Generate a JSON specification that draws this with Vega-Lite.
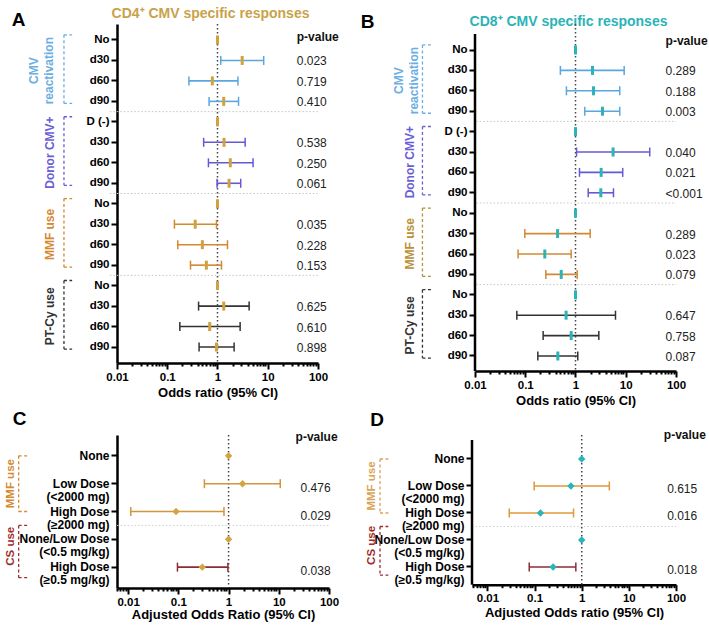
{
  "$schema": "https://vega.github.io/schema/vega-lite/v6.json",
  "background": "white",
  "padding": {"left": 4, "top": 6, "right": 0, "bottom": 0},
  "config": {
    "font": "Liberation Sans",
    "view": {"stroke": null},
    "axis": {"grid": false, "domainColor": "#000000", "domainWidth": 2.5, "tickColor": "#000000", "tickWidth": 2, "labelColor": "#000000", "labelFontWeight": "bold", "titleColor": "#000000", "titleFontWeight": "bold"},
    "text": {"font": "Liberation Sans"}
  },
  "datasets": {
    "a": [
      {"row": "CMV|No", "grp": "CMV", "or": 1, "lo": null, "hi": null, "p": ""},
      {"row": "CMV|d30", "grp": "CMV", "or": 3.1, "lo": 1.16, "hi": 8.3, "p": "0.023"},
      {"row": "CMV|d60", "grp": "CMV", "or": 0.79, "lo": 0.27, "hi": 2.55, "p": "0.719"},
      {"row": "CMV|d90", "grp": "CMV", "or": 1.33, "lo": 0.68, "hi": 2.62, "p": "0.410"},
      {"row": "Donor|D (-)", "grp": "Donor", "or": 1, "lo": null, "hi": null, "p": ""},
      {"row": "Donor|d30", "grp": "Donor", "or": 1.35, "lo": 0.53, "hi": 3.55, "p": "0.538"},
      {"row": "Donor|d60", "grp": "Donor", "or": 1.8, "lo": 0.66, "hi": 5.1, "p": "0.250"},
      {"row": "Donor|d90", "grp": "Donor", "or": 1.7, "lo": 0.98, "hi": 2.9, "p": "0.061"},
      {"row": "MMF|No", "grp": "MMF", "or": 1, "lo": null, "hi": null, "p": ""},
      {"row": "MMF|d30", "grp": "MMF", "or": 0.36, "lo": 0.139, "hi": 0.955, "p": "0.035"},
      {"row": "MMF|d60", "grp": "MMF", "or": 0.5, "lo": 0.162, "hi": 1.58, "p": "0.228"},
      {"row": "MMF|d90", "grp": "MMF", "or": 0.6, "lo": 0.29, "hi": 1.2, "p": "0.153"},
      {"row": "PTCy|No", "grp": "PTCy", "or": 1, "lo": null, "hi": null, "p": ""},
      {"row": "PTCy|d30", "grp": "PTCy", "or": 1.33, "lo": 0.42, "hi": 4.26, "p": "0.625"},
      {"row": "PTCy|d60", "grp": "PTCy", "or": 0.7, "lo": 0.178, "hi": 2.82, "p": "0.610"},
      {"row": "PTCy|d90", "grp": "PTCy", "or": 0.955, "lo": 0.43, "hi": 2.14, "p": "0.898"}
    ],
    "b": [
      {"row": "CMV|No", "grp": "CMV", "or": 1, "lo": null, "hi": null, "p": ""},
      {"row": "CMV|d30", "grp": "CMV", "or": 2.18, "lo": 0.5, "hi": 9.3, "p": "0.289"},
      {"row": "CMV|d60", "grp": "CMV", "or": 2.28, "lo": 0.66, "hi": 7.6, "p": "0.188"},
      {"row": "CMV|d90", "grp": "CMV", "or": 3.45, "lo": 1.53, "hi": 7.6, "p": "0.003"},
      {"row": "Donor|D (-)", "grp": "Donor", "or": 1, "lo": null, "hi": null, "p": ""},
      {"row": "Donor|d30", "grp": "Donor", "or": 5.6, "lo": 1.05, "hi": 30, "p": "0.040"},
      {"row": "Donor|d60", "grp": "Donor", "or": 3.24, "lo": 1.2, "hi": 8.7, "p": "0.021"},
      {"row": "Donor|d90", "grp": "Donor", "or": 3.19, "lo": 1.79, "hi": 5.7, "p": "<0.001"},
      {"row": "MMF|No", "grp": "MMF", "or": 1, "lo": null, "hi": null, "p": ""},
      {"row": "MMF|d30", "grp": "MMF", "or": 0.44, "lo": 0.098, "hi": 1.96, "p": "0.289"},
      {"row": "MMF|d60", "grp": "MMF", "or": 0.245, "lo": 0.072, "hi": 0.82, "p": "0.023"},
      {"row": "MMF|d90", "grp": "MMF", "or": 0.52, "lo": 0.257, "hi": 1.08, "p": "0.079"},
      {"row": "PTCy|No", "grp": "PTCy", "or": 1, "lo": null, "hi": null, "p": ""},
      {"row": "PTCy|d30", "grp": "PTCy", "or": 0.65, "lo": 0.068, "hi": 6.25, "p": "0.647"},
      {"row": "PTCy|d60", "grp": "PTCy", "or": 0.82, "lo": 0.227, "hi": 2.91, "p": "0.758"},
      {"row": "PTCy|d90", "grp": "PTCy", "or": 0.445, "lo": 0.178, "hi": 1.11, "p": "0.087"}
    ],
    "ag": [
      {"grp": "CMV", "top": "CMV|No", "bot": "CMV|d90", "mid": "CMV|d30", "name": "CMV\nreactivation"},
      {"grp": "Donor", "top": "Donor|D (-)", "bot": "Donor|d90", "mid": "Donor|d30", "name": "Donor  CMV+"},
      {"grp": "MMF", "top": "MMF|No", "bot": "MMF|d90", "mid": "MMF|d30", "name": "MMF use"},
      {"grp": "PTCy", "top": "PTCy|No", "bot": "PTCy|d90", "mid": "PTCy|d30", "name": "PT-Cy use"}
    ],
    "c": [
      {"row": "MMF|None", "grp": "MMF", "or": 1, "lo": null, "hi": null, "p": ""},
      {"row": "MMF|Low Dose|(<2000 mg)", "grp": "MMF", "or": 1.9, "lo": 0.33, "hi": 10.7, "p": "0.476"},
      {"row": "MMF|High Dose|(≥2000 mg)", "grp": "MMF", "or": 0.09, "lo": 0.0113, "hi": 0.81, "p": "0.029"},
      {"row": "CS|None/Low Dose|(<0.5 mg/kg)", "grp": "CS", "or": 1, "lo": null, "hi": null, "p": ""},
      {"row": "CS|High Dose|(≥0.5 mg/kg)", "grp": "CS", "or": 0.3, "lo": 0.096, "hi": 0.97, "p": "0.038"}
    ],
    "d": [
      {"row": "MMF|None", "grp": "MMF", "or": 1, "lo": null, "hi": null, "p": ""},
      {"row": "MMF|Low Dose|(<2000 mg)", "grp": "MMF", "or": 0.59, "lo": 0.098, "hi": 3.85, "p": "0.615"},
      {"row": "MMF|High Dose|(≥2000 mg)", "grp": "MMF", "or": 0.133, "lo": 0.029, "hi": 0.67, "p": "0.016"},
      {"row": "CS|None/Low Dose|(<0.5 mg/kg)", "grp": "CS", "or": 1, "lo": null, "hi": null, "p": ""},
      {"row": "CS|High Dose|(≥0.5 mg/kg)", "grp": "CS", "or": 0.247, "lo": 0.077, "hi": 0.75, "p": "0.018"}
    ],
    "cg": [
      {"grp": "MMF", "top": "MMF|None", "bot": "MMF|High Dose|(≥2000 mg)", "mid": "MMF|Low Dose|(<2000 mg)", "name": "MMF use"},
      {"grp": "CS", "top": "CS|None/Low Dose|(<0.5 mg/kg)", "bot": "CS|High Dose|(≥0.5 mg/kg)", "mid": "CS|None/Low Dose|(<0.5 mg/kg)", "name": "CS use"}
    ]
  },
  "spacing": 1,
  "vconcat": [
    {
      "spacing": 21,
      "hconcat": [
        {
          "width": 201,
          "height": 339,
          "data": {"name": "a"},
          "resolve": {"axis": {"x": "independent", "y": "independent"}, "scale": {"color": "independent"}},
          "layer": [
            {
              "transform": [{"filter": "indexof(['CMV|d90','Donor|d90','MMF|d90'], datum.row) >= 0"}],
              "mark": {"type": "rule", "color": "#c6c6c6", "strokeDash": [1.5, 2], "strokeWidth": 1},
              "encoding": {
                "x": {"datum": 0.0072, "type": "quantitative", "scale": {"type": "log", "domain": [0.01, 100], "nice": false}, "axis": null},
                "x2": {"datum": 105},
                "y": {"field": "row", "type": "nominal", "bandPosition": 1, "axis": null}
              }
            },
            {
              "data": {"values": [{}]},
              "mark": {"type": "rule", "color": "#444444", "strokeDash": [1.5, 2.5], "strokeWidth": 1.5},
              "encoding": {
                "x": {"datum": 1, "type": "quantitative", "axis": {
                  "orient": "bottom", "title": "Odds ratio (95% CI)", "titleFontSize": 13, "titlePadding": 4,
                  "values": [0.01,0.02,0.03,0.04,0.05,0.06,0.07,0.08,0.09,0.1,0.2,0.3,0.4,0.5,0.6,0.7,0.8,0.9,1,2,3,4,5,6,7,8,9,10,20,30,40,50,60,70,80,90,100],
                  "labelExpr": "indexof([0.01,0.1,1,10,100], datum.value) >= 0 ? format(datum.value, '~g') : ''",
                  "labelFontSize": 11.5, "labelPadding": 2, "labelFlush": false, "labelOverlap": false, "labelBound": false,
                  "tickSize": {"condition": {"test": "indexof([0.01,0.1,1,10,100], datum.value) >= 0", "value": 6}, "value": 3}
                }}
              }
            },
            {
              "transform": [{"filter": "datum.lo != null"}],
              "mark": {"type": "rule", "strokeWidth": 1.6},
              "encoding": {
                "x": {"field": "lo", "type": "quantitative", "axis": null},
                "x2": {"field": "hi"},
                "y": {"field": "row", "type": "nominal",
                  "scale": {"type": "band", "domain": ["CMV|No","CMV|d30","CMV|d60","CMV|d90","Donor|D (-)","Donor|d30","Donor|d60","Donor|d90","MMF|No","MMF|d30","MMF|d60","MMF|d90","PTCy|No","PTCy|d30","PTCy|d60","PTCy|d90"], "paddingInner": 0, "paddingOuter": 0.28},
                  "axis": {"title": "A", "titleAngle": 0, "titleX": -99, "titleY": -5, "titleAlign": "center", "titleBaseline": "middle", "titleFontSize": 19,
                    "labelExpr": "slice(split(datum.label, '|'), 1)", "labelFontSize": 11.5, "labelPadding": 2, "tickSize": 6}},
                "color": {"field": "grp", "type": "nominal", "scale": {"domain": ["CMV","Donor","MMF","PTCy"], "range": ["#5AA6DF","#6659D4","#D4882F","#333333"]}, "legend": null}
              }
            },
            {
              "transform": [{"filter": "datum.lo != null"}],
              "mark": {"type": "tick", "size": 9, "thickness": 1.5, "opacity": 1},
              "encoding": {
                "x": {"field": "lo", "type": "quantitative", "axis": null},
                "y": {"field": "row", "type": "nominal", "axis": null},
                "color": {"field": "grp", "type": "nominal", "scale": {"domain": ["CMV","Donor","MMF","PTCy"], "range": ["#5AA6DF","#6659D4","#D4882F","#333333"]}, "legend": null}
              }
            },
            {
              "transform": [{"filter": "datum.hi != null"}],
              "mark": {"type": "tick", "size": 9, "thickness": 1.5, "opacity": 1},
              "encoding": {
                "x": {"field": "hi", "type": "quantitative", "axis": null},
                "y": {"field": "row", "type": "nominal", "axis": null},
                "color": {"field": "grp", "type": "nominal", "scale": {"domain": ["CMV","Donor","MMF","PTCy"], "range": ["#5AA6DF","#6659D4","#D4882F","#333333"]}, "legend": null}
              }
            },
            {
              "mark": {"type": "tick", "size": 9, "thickness": 3, "color": "#D0A23E", "opacity": 1},
              "encoding": {
                "x": {"field": "or", "type": "quantitative", "axis": {"orient": "top", "title": "CD4⁺ CMV specific responses", "titleColor": "#C9A24A", "titleFontSize": 14, "titleX": 93, "titleY": -11, "titleAlign": "center", "titleBaseline": "middle", "labels": false, "ticks": false, "domain": false}},
                "y": {"field": "row", "type": "nominal", "axis": null}
              }
            },
            {
              "transform": [{"filter": "datum.p != ''"}],
              "mark": {"type": "text", "align": "left", "baseline": "middle", "fontSize": 12, "color": "#222222", "dy": 1},
              "encoding": {
                "x": {"datum": 37.8, "type": "quantitative", "axis": null},
                "y": {"field": "row", "type": "nominal", "axis": null},
                "text": {"field": "p"}
              }
            },
            {
              "data": {"values": [{"t": "p-value"}]},
              "mark": {"type": "text", "align": "left", "baseline": "middle", "fontSize": 12, "fontWeight": "bold", "color": "#111111", "dy": -3},
              "encoding": {
                "x": {"datum": 37.8, "type": "quantitative", "axis": null},
                "y": {"datum": "CMV|No", "type": "nominal", "axis": null},
                "text": {"field": "t"}
              }
            },
            {
              "data": {"name": "ag"},
              "mark": {"type": "rule", "strokeDash": [3, 2.5], "strokeWidth": 1.3},
              "encoding": {
                "x": {"datum": 0.00088, "type": "quantitative", "axis": null},
                "y": {"field": "top", "type": "nominal", "bandPosition": 0.25, "axis": null},
                "y2": {"field": "bot", "bandPosition": 0.6},
                "color": {"field": "grp", "type": "nominal", "scale": {"domain": ["CMV","Donor","MMF","PTCy"], "range": ["#6AAEE2","#6A5ED6","#D4882F","#333333"]}, "legend": null}
              }
            },
            {
              "data": {"name": "ag"},
              "mark": {"type": "rule", "strokeDash": [3, 2.5], "strokeWidth": 1.3},
              "encoding": {
                "x": {"datum": 0.00088, "type": "quantitative", "axis": null},
                "x2": {"datum": 0.00128},
                "y": {"field": "top", "type": "nominal", "bandPosition": 0.25, "axis": null},
                "color": {"field": "grp", "type": "nominal", "scale": {"domain": ["CMV","Donor","MMF","PTCy"], "range": ["#6AAEE2","#6A5ED6","#D4882F","#333333"]}, "legend": null}
              }
            },
            {
              "data": {"name": "ag"},
              "mark": {"type": "rule", "strokeDash": [3, 2.5], "strokeWidth": 1.3},
              "encoding": {
                "x": {"datum": 0.00088, "type": "quantitative", "axis": null},
                "x2": {"datum": 0.00128},
                "y": {"field": "bot", "type": "nominal", "bandPosition": 0.6, "axis": null},
                "color": {"field": "grp", "type": "nominal", "scale": {"domain": ["CMV","Donor","MMF","PTCy"], "range": ["#6AAEE2","#6A5ED6","#D4882F","#333333"]}, "legend": null}
              }
            },
            {
              "data": {"name": "ag"},
              "transform": [{"filter": "datum.grp != 'CMV'"}],
              "mark": {"type": "text", "angle": 270, "align": "center", "baseline": "alphabetic", "fontSize": 12, "fontWeight": "bold"},
              "encoding": {
                "x": {"datum": 0.000557, "type": "quantitative", "axis": null},
                "y": {"field": "mid", "type": "nominal", "bandPosition": 1, "axis": null},
                "text": {"field": "name"},
                "color": {"field": "grp", "type": "nominal", "scale": {"domain": ["CMV","Donor","MMF","PTCy"], "range": ["#6AAEE2","#6A5ED6","#D4882F","#333333"]}, "legend": null}
              }
            },
            {
              "data": {"name": "ag"},
              "transform": [{"filter": "datum.grp == 'CMV'"}],
              "mark": {"type": "text", "angle": 270, "align": "center", "baseline": "alphabetic", "fontSize": 12, "fontWeight": "bold", "lineBreak": "\n", "lineHeight": 15, "color": "#6AAEE2"},
              "encoding": {
                "x": {"datum": 0.000268, "type": "quantitative", "axis": null},
                "y": {"field": "mid", "type": "nominal", "bandPosition": 1, "axis": null},
                "text": {"field": "name"}
              }
            }
          ]
        },
        {
          "width": 201,
          "height": 347,
          "data": {"name": "b"},
          "resolve": {"axis": {"x": "independent", "y": "independent"}, "scale": {"color": "independent"}},
          "layer": [
            {
              "transform": [{"filter": "indexof(['CMV|d90','Donor|d90','MMF|d90'], datum.row) >= 0"}],
              "mark": {"type": "rule", "color": "#c6c6c6", "strokeDash": [1.5, 2], "strokeWidth": 1},
              "encoding": {
                "x": {"datum": 0.0105, "type": "quantitative", "scale": {"type": "log", "domain": [0.01, 100], "nice": false}, "axis": null},
                "x2": {"datum": 100},
                "y": {"field": "row", "type": "nominal", "bandPosition": 1, "axis": null}
              }
            },
            {
              "data": {"values": [{}]},
              "mark": {"type": "rule", "color": "#000000", "strokeWidth": 2.5},
              "encoding": {
                "x": {"datum": 0.01, "type": "quantitative", "axis": null},
                "y": {"datum": "CMV|No", "type": "nominal", "bandPosition": -0.284, "axis": null},
                "y2": {"value": "height"}
              }
            },
            {
              "data": {"values": [{}]},
              "mark": {"type": "rule", "color": "#444444", "strokeDash": [1.5, 2.5], "strokeWidth": 1.5},
              "encoding": {
                "x": {"datum": 1, "type": "quantitative", "axis": {
                  "orient": "bottom", "title": "Odds ratio (95% CI)", "titleFontSize": 13, "titlePadding": 4,
                  "values": [0.01,0.02,0.03,0.04,0.05,0.06,0.07,0.08,0.09,0.1,0.2,0.3,0.4,0.5,0.6,0.7,0.8,0.9,1,2,3,4,5,6,7,8,9,10,20,30,40,50,60,70,80,90,100],
                  "labelExpr": "indexof([0.01,0.1,1,10,100], datum.value) >= 0 ? format(datum.value, '~g') : ''",
                  "labelFontSize": 11.5, "labelPadding": 2, "labelFlush": false, "labelOverlap": false, "labelBound": false,
                  "tickSize": {"condition": {"test": "indexof([0.01,0.1,1,10,100], datum.value) >= 0", "value": 6}, "value": 3}
                }}
              }
            },
            {
              "transform": [{"filter": "datum.lo != null"}],
              "mark": {"type": "rule", "strokeWidth": 1.6},
              "encoding": {
                "x": {"field": "lo", "type": "quantitative", "axis": null},
                "x2": {"field": "hi"},
                "y": {"field": "row", "type": "nominal",
                  "scale": {"type": "band", "domain": ["CMV|No","CMV|d30","CMV|d60","CMV|d90","Donor|D (-)","Donor|d30","Donor|d60","Donor|d90","MMF|No","MMF|d30","MMF|d60","MMF|d90","PTCy|No","PTCy|d30","PTCy|d60","PTCy|d90"], "paddingInner": 0, "paddingOuter": 0.505, "align": 0.767},
                  "axis": {"title": "B", "titleAngle": 0, "titleX": -108, "titleY": -3, "titleAlign": "center", "titleBaseline": "middle", "titleFontSize": 19, "domain": false,
                    "labelExpr": "slice(split(datum.label, '|'), 1)", "labelFontSize": 11.5, "labelPadding": 2, "tickSize": 6}},
                "color": {"field": "grp", "type": "nominal", "scale": {"domain": ["CMV","Donor","MMF","PTCy"], "range": ["#5AA6DF","#6659D4","#D08A35","#333333"]}, "legend": null}
              }
            },
            {
              "transform": [{"filter": "datum.lo != null"}],
              "mark": {"type": "tick", "size": 9, "thickness": 1.5, "opacity": 1},
              "encoding": {
                "x": {"field": "lo", "type": "quantitative", "axis": null},
                "y": {"field": "row", "type": "nominal", "axis": null},
                "color": {"field": "grp", "type": "nominal", "scale": {"domain": ["CMV","Donor","MMF","PTCy"], "range": ["#5AA6DF","#6659D4","#D08A35","#333333"]}, "legend": null}
              }
            },
            {
              "transform": [{"filter": "datum.hi != null"}],
              "mark": {"type": "tick", "size": 9, "thickness": 1.5, "opacity": 1},
              "encoding": {
                "x": {"field": "hi", "type": "quantitative", "axis": null},
                "y": {"field": "row", "type": "nominal", "axis": null},
                "color": {"field": "grp", "type": "nominal", "scale": {"domain": ["CMV","Donor","MMF","PTCy"], "range": ["#5AA6DF","#6659D4","#D08A35","#333333"]}, "legend": null}
              }
            },
            {
              "mark": {"type": "tick", "size": 9, "thickness": 3, "color": "#2BB3B7", "opacity": 1},
              "encoding": {
                "x": {"field": "or", "type": "quantitative", "axis": {"orient": "top", "title": "CD8⁺ CMV specific responses", "titleColor": "#2BB3B7", "titleFontSize": 14, "titleX": 93, "titleY": -3, "titleAlign": "center", "titleBaseline": "middle", "labels": false, "ticks": false, "domain": false}},
                "y": {"field": "row", "type": "nominal", "axis": null}
              }
            },
            {
              "transform": [{"filter": "datum.p != ''"}],
              "mark": {"type": "text", "align": "left", "baseline": "middle", "fontSize": 12, "color": "#222222", "dy": 1},
              "encoding": {
                "x": {"datum": 62, "type": "quantitative", "axis": null},
                "y": {"field": "row", "type": "nominal", "axis": null},
                "text": {"field": "p"}
              }
            },
            {
              "data": {"values": [{"t": "p-value"}]},
              "mark": {"type": "text", "align": "left", "baseline": "middle", "fontSize": 12, "fontWeight": "bold", "color": "#111111", "dy": -9},
              "encoding": {
                "x": {"datum": 62, "type": "quantitative", "axis": null},
                "y": {"datum": "CMV|No", "type": "nominal", "axis": null},
                "text": {"field": "t"}
              }
            },
            {
              "data": {"name": "ag"},
              "mark": {"type": "rule", "strokeDash": [3, 2.5], "strokeWidth": 1.3},
              "encoding": {
                "x": {"datum": 0.0009, "type": "quantitative", "axis": null},
                "y": {"field": "top", "type": "nominal", "bandPosition": 0.25, "axis": null},
                "y2": {"field": "bot", "bandPosition": 0.6},
                "color": {"field": "grp", "type": "nominal", "scale": {"domain": ["CMV","Donor","MMF","PTCy"], "range": ["#6AAEE2","#6A5ED6","#B99035","#333333"]}, "legend": null}
              }
            },
            {
              "data": {"name": "ag"},
              "mark": {"type": "rule", "strokeDash": [3, 2.5], "strokeWidth": 1.3},
              "encoding": {
                "x": {"datum": 0.0009, "type": "quantitative", "axis": null},
                "x2": {"datum": 0.0014},
                "y": {"field": "top", "type": "nominal", "bandPosition": 0.25, "axis": null},
                "color": {"field": "grp", "type": "nominal", "scale": {"domain": ["CMV","Donor","MMF","PTCy"], "range": ["#6AAEE2","#6A5ED6","#B99035","#333333"]}, "legend": null}
              }
            },
            {
              "data": {"name": "ag"},
              "mark": {"type": "rule", "strokeDash": [3, 2.5], "strokeWidth": 1.3},
              "encoding": {
                "x": {"datum": 0.0009, "type": "quantitative", "axis": null},
                "x2": {"datum": 0.0014},
                "y": {"field": "bot", "type": "nominal", "bandPosition": 0.6, "axis": null},
                "color": {"field": "grp", "type": "nominal", "scale": {"domain": ["CMV","Donor","MMF","PTCy"], "range": ["#6AAEE2","#6A5ED6","#B99035","#333333"]}, "legend": null}
              }
            },
            {
              "data": {"name": "ag"},
              "transform": [{"filter": "datum.grp != 'CMV'"}],
              "mark": {"type": "text", "angle": 270, "align": "center", "baseline": "alphabetic", "fontSize": 12, "fontWeight": "bold"},
              "encoding": {
                "x": {"datum": 0.000617, "type": "quantitative", "axis": null},
                "y": {"field": "mid", "type": "nominal", "bandPosition": 1, "axis": null},
                "text": {"field": "name"},
                "color": {"field": "grp", "type": "nominal", "scale": {"domain": ["CMV","Donor","MMF","PTCy"], "range": ["#6AAEE2","#6A5ED6","#B99035","#333333"]}, "legend": null}
              }
            },
            {
              "data": {"name": "ag"},
              "transform": [{"filter": "datum.grp == 'CMV'"}],
              "mark": {"type": "text", "angle": 270, "align": "center", "baseline": "alphabetic", "fontSize": 12, "fontWeight": "bold", "lineBreak": "\n", "lineHeight": 15, "color": "#6AAEE2"},
              "encoding": {
                "x": {"datum": 0.000364, "type": "quantitative", "axis": null},
                "y": {"field": "mid", "type": "nominal", "bandPosition": 1, "axis": null},
                "text": {"field": "name"}
              }
            }
          ]
        }
      ]
    },
    {
      "spacing": 27,
      "hconcat": [
        {
          "width": 212,
          "height": 153,
          "data": {"name": "c"},
          "resolve": {"axis": {"x": "independent", "y": "independent"}, "scale": {"color": "independent"}},
          "layer": [
            {
              "transform": [{"filter": "datum.row == 'MMF|High Dose|(≥2000 mg)'"}],
              "mark": {"type": "rule", "color": "#d0d0d0", "strokeDash": [1.5, 2], "strokeWidth": 1},
              "encoding": {
                "x": {"datum": 0.006, "type": "quantitative", "scale": {"type": "log", "domain": [0.006, 100], "nice": false}, "axis": null},
                "x2": {"datum": 100},
                "y": {"field": "row", "type": "nominal", "bandPosition": 1, "axis": null}
              }
            },
            {
              "data": {"values": [{}]},
              "mark": {"type": "rule", "color": "#444444", "strokeDash": [1.5, 2.5], "strokeWidth": 1.5},
              "encoding": {
                "x": {"datum": 1, "type": "quantitative", "axis": {
                  "orient": "bottom", "title": "Adjusted Odds Ratio (95% CI)", "titleFontSize": 13, "titlePadding": 1,
                  "values": [0.006,0.007,0.008,0.009,0.01,0.02,0.03,0.04,0.05,0.06,0.07,0.08,0.09,0.1,0.2,0.3,0.4,0.5,0.6,0.7,0.8,0.9,1,2,3,4,5,6,7,8,9,10,20,30,40,50,60,70,80,90,100],
                  "labelExpr": "indexof([0.01,0.1,1,10,100], datum.value) >= 0 ? format(datum.value, '~g') : ''",
                  "labelFontSize": 11.5, "labelPadding": 2, "labelFlush": false, "labelOverlap": false, "labelBound": false,
                  "tickSize": {"condition": {"test": "indexof([0.01,0.1,1,10,100], datum.value) >= 0", "value": 6}, "value": 3}
                }}
              }
            },
            {
              "transform": [{"filter": "datum.lo != null"}],
              "mark": {"type": "rule", "strokeWidth": 1.6},
              "encoding": {
                "x": {"field": "lo", "type": "quantitative", "axis": null},
                "x2": {"field": "hi"},
                "y": {"field": "row", "type": "nominal",
                  "scale": {"type": "band", "domain": ["MMF|None","MMF|Low Dose|(<2000 mg)","MMF|High Dose|(≥2000 mg)","CS|None/Low Dose|(<0.5 mg/kg)","CS|High Dose|(≥0.5 mg/kg)"], "paddingInner": 0, "paddingOuter": 0.25},
                  "axis": {"title": "C", "titleAngle": 0, "titleX": -98, "titleY": -17, "titleAlign": "center", "titleBaseline": "middle", "titleFontSize": 19,
                    "labelExpr": "slice(split(datum.label, '|'), 1)", "labelFontSize": 12, "labelPadding": 2, "tickSize": 6, "labelLineHeight": 13}},
                "color": {"field": "grp", "type": "nominal", "scale": {"domain": ["MMF","CS"], "range": ["#D3953A","#8C2B33"]}, "legend": null}
              }
            },
            {
              "transform": [{"filter": "datum.lo != null"}],
              "mark": {"type": "tick", "size": 9, "thickness": 1.5, "opacity": 1},
              "encoding": {
                "x": {"field": "lo", "type": "quantitative", "axis": null},
                "y": {"field": "row", "type": "nominal", "axis": null},
                "color": {"field": "grp", "type": "nominal", "scale": {"domain": ["MMF","CS"], "range": ["#D3953A","#8C2B33"]}, "legend": null}
              }
            },
            {
              "transform": [{"filter": "datum.hi != null"}],
              "mark": {"type": "tick", "size": 9, "thickness": 1.5, "opacity": 1},
              "encoding": {
                "x": {"field": "hi", "type": "quantitative", "axis": null},
                "y": {"field": "row", "type": "nominal", "axis": null},
                "color": {"field": "grp", "type": "nominal", "scale": {"domain": ["MMF","CS"], "range": ["#D3953A","#8C2B33"]}, "legend": null}
              }
            },
            {
              "mark": {"type": "point", "shape": "diamond", "filled": true, "size": 55, "color": "#D4A53E", "opacity": 1},
              "encoding": {
                "x": {"field": "or", "type": "quantitative", "axis": null},
                "y": {"field": "row", "type": "nominal", "axis": null}
              }
            },
            {
              "transform": [{"filter": "datum.p != ''"}],
              "mark": {"type": "text", "align": "left", "baseline": "middle", "fontSize": 12, "color": "#222222", "dy": 4},
              "encoding": {
                "x": {"datum": 27.2, "type": "quantitative", "axis": null},
                "y": {"field": "row", "type": "nominal", "axis": null},
                "text": {"field": "p"}
              }
            },
            {
              "data": {"values": [{"t": "p-value"}]},
              "mark": {"type": "text", "align": "left", "baseline": "middle", "fontSize": 12, "fontWeight": "bold", "color": "#111111", "dy": -19},
              "encoding": {
                "x": {"datum": 21.6, "type": "quantitative", "axis": null},
                "y": {"datum": "MMF|None", "type": "nominal", "axis": null},
                "text": {"field": "t"}
              }
            },
            {
              "data": {"name": "cg"},
              "transform": [{"filter": "datum.grp == 'MMF'"}],
              "mark": {"type": "rule", "strokeDash": [3, 2.5], "strokeWidth": 1.3, "color": "#D48A30"},
              "encoding": {
                "x": {"datum": 0.000066, "type": "quantitative", "axis": null},
                "y": {"field": "top", "type": "nominal", "axis": null},
                "y2": {"field": "bot"}
              }
            },
            {
              "data": {"name": "cg"},
              "transform": [{"filter": "datum.grp == 'MMF'"}],
              "mark": {"type": "rule", "strokeDash": [3, 2.5], "strokeWidth": 1.3, "color": "#D48A30"},
              "encoding": {
                "x": {"datum": 0.000066, "type": "quantitative", "axis": null},
                "x2": {"datum": 0.0001},
                "y": {"field": "top", "type": "nominal", "axis": null}
              }
            },
            {
              "data": {"name": "cg"},
              "transform": [{"filter": "datum.grp == 'MMF'"}],
              "mark": {"type": "rule", "strokeDash": [3, 2.5], "strokeWidth": 1.3, "color": "#D48A30"},
              "encoding": {
                "x": {"datum": 0.000066, "type": "quantitative", "axis": null},
                "x2": {"datum": 0.0001},
                "y": {"field": "bot", "type": "nominal", "axis": null}
              }
            },
            {
              "data": {"name": "cg"},
              "transform": [{"filter": "datum.grp == 'CS'"}],
              "mark": {"type": "rule", "strokeDash": [3, 2.5], "strokeWidth": 1.3, "color": "#A02C2C"},
              "encoding": {
                "x": {"datum": 0.000066, "type": "quantitative", "axis": null},
                "y": {"field": "top", "type": "nominal", "bandPosition": 0, "axis": null},
                "y2": {"field": "bot", "bandPosition": 0.88}
              }
            },
            {
              "data": {"name": "cg"},
              "transform": [{"filter": "datum.grp == 'CS'"}],
              "mark": {"type": "rule", "strokeDash": [3, 2.5], "strokeWidth": 1.3, "color": "#A02C2C"},
              "encoding": {
                "x": {"datum": 0.000066, "type": "quantitative", "axis": null},
                "x2": {"datum": 0.0001},
                "y": {"field": "top", "type": "nominal", "bandPosition": 0, "axis": null}
              }
            },
            {
              "data": {"name": "cg"},
              "transform": [{"filter": "datum.grp == 'CS'"}],
              "mark": {"type": "rule", "strokeDash": [3, 2.5], "strokeWidth": 1.3, "color": "#A02C2C"},
              "encoding": {
                "x": {"datum": 0.000066, "type": "quantitative", "axis": null},
                "x2": {"datum": 0.0001},
                "y": {"field": "bot", "type": "nominal", "bandPosition": 0.88, "axis": null}
              }
            },
            {
              "data": {"name": "cg"},
              "transform": [{"filter": "datum.grp == 'MMF'"}],
              "mark": {"type": "text", "angle": 270, "align": "center", "baseline": "alphabetic", "fontSize": 11.5, "fontWeight": "bold", "color": "#D48A30"},
              "encoding": {
                "x": {"datum": 0.0000525, "type": "quantitative", "axis": null},
                "y": {"field": "mid", "type": "nominal", "axis": null},
                "text": {"field": "name"}
              }
            },
            {
              "data": {"name": "cg"},
              "transform": [{"filter": "datum.grp == 'CS'"}],
              "mark": {"type": "text", "angle": 270, "align": "center", "baseline": "alphabetic", "fontSize": 11.5, "fontWeight": "bold", "color": "#A02C2C"},
              "encoding": {
                "x": {"datum": 0.0000525, "type": "quantitative", "axis": null},
                "y": {"field": "mid", "type": "nominal", "bandPosition": 0.75, "axis": null},
                "text": {"field": "name"}
              }
            }
          ]
        },
        {
          "width": 204,
          "height": 149.7,
          "data": {"name": "d"},
          "resolve": {"axis": {"x": "independent", "y": "independent"}, "scale": {"color": "independent"}},
          "layer": [
            {
              "transform": [{"filter": "datum.row == 'MMF|High Dose|(≥2000 mg)'"}],
              "mark": {"type": "rule", "color": "#d0d0d0", "strokeDash": [1.5, 2], "strokeWidth": 1},
              "encoding": {
                "x": {"datum": 0.0047, "type": "quantitative", "scale": {"type": "log", "domain": [0.0047, 100], "nice": false}, "axis": null},
                "x2": {"datum": 100},
                "y": {"field": "row", "type": "nominal", "bandPosition": 1, "axis": null}
              }
            },
            {
              "data": {"values": [{}]},
              "mark": {"type": "rule", "color": "#000000", "strokeWidth": 2.5},
              "encoding": {
                "x": {"datum": 0.0047, "type": "quantitative", "axis": null},
                "y": {"datum": "MMF|None", "type": "nominal", "bandPosition": -0.204, "axis": null},
                "y2": {"value": "height"}
              }
            },
            {
              "data": {"values": [{}]},
              "mark": {"type": "rule", "color": "#444444", "strokeDash": [1.5, 2.5], "strokeWidth": 1.5},
              "encoding": {
                "x": {"datum": 1, "type": "quantitative", "axis": {
                  "orient": "bottom", "title": "Adjusted Odds ratio (95% CI)", "titleFontSize": 13, "titlePadding": 2,
                  "values": [0.005,0.006,0.007,0.008,0.009,0.01,0.02,0.03,0.04,0.05,0.06,0.07,0.08,0.09,0.1,0.2,0.3,0.4,0.5,0.6,0.7,0.8,0.9,1,2,3,4,5,6,7,8,9,10,20,30,40,50,60,70,80,90,100],
                  "labelExpr": "indexof([0.01,0.1,1,10,100], datum.value) >= 0 ? format(datum.value, '~g') : ''",
                  "labelFontSize": 11.5, "labelPadding": 2, "labelFlush": false, "labelOverlap": false, "labelBound": false,
                  "tickSize": {"condition": {"test": "indexof([0.01,0.1,1,10,100], datum.value) >= 0", "value": 6}, "value": 3}
                }}
              }
            },
            {
              "transform": [{"filter": "datum.lo != null"}],
              "mark": {"type": "rule", "strokeWidth": 1.6},
              "encoding": {
                "x": {"field": "lo", "type": "quantitative", "axis": null},
                "x2": {"field": "hi"},
                "y": {"field": "row", "type": "nominal",
                  "scale": {"type": "band", "domain": ["MMF|None","MMF|Low Dose|(<2000 mg)","MMF|High Dose|(≥2000 mg)","CS|None/Low Dose|(<0.5 mg/kg)","CS|High Dose|(≥0.5 mg/kg)"], "paddingInner": 0, "paddingOuter": 0.272, "align": 0.714},
                  "axis": {"title": "D", "titleAngle": 0, "titleX": -95.5, "titleY": -15.5, "titleAlign": "center", "titleBaseline": "middle", "titleFontSize": 19, "domain": false,
                    "labelExpr": "slice(split(datum.label, '|'), 1)", "labelFontSize": 12, "labelPadding": 2, "tickSize": 6, "labelLineHeight": 13}},
                "color": {"field": "grp", "type": "nominal", "scale": {"domain": ["MMF","CS"], "range": ["#E0983A","#8C2B33"]}, "legend": null}
              }
            },
            {
              "transform": [{"filter": "datum.lo != null"}],
              "mark": {"type": "tick", "size": 9, "thickness": 1.5, "opacity": 1},
              "encoding": {
                "x": {"field": "lo", "type": "quantitative", "axis": null},
                "y": {"field": "row", "type": "nominal", "axis": null},
                "color": {"field": "grp", "type": "nominal", "scale": {"domain": ["MMF","CS"], "range": ["#E0983A","#8C2B33"]}, "legend": null}
              }
            },
            {
              "transform": [{"filter": "datum.hi != null"}],
              "mark": {"type": "tick", "size": 9, "thickness": 1.5, "opacity": 1},
              "encoding": {
                "x": {"field": "hi", "type": "quantitative", "axis": null},
                "y": {"field": "row", "type": "nominal", "axis": null},
                "color": {"field": "grp", "type": "nominal", "scale": {"domain": ["MMF","CS"], "range": ["#E0983A","#8C2B33"]}, "legend": null}
              }
            },
            {
              "mark": {"type": "point", "shape": "diamond", "filled": true, "size": 55, "color": "#27B5BA", "opacity": 1},
              "encoding": {
                "x": {"field": "or", "type": "quantitative", "axis": null},
                "y": {"field": "row", "type": "nominal", "axis": null}
              }
            },
            {
              "transform": [{"filter": "datum.p != ''"}],
              "mark": {"type": "text", "align": "left", "baseline": "middle", "fontSize": 12, "color": "#222222", "dy": 3},
              "encoding": {
                "x": {"datum": 65, "type": "quantitative", "axis": null},
                "y": {"field": "row", "type": "nominal", "axis": null},
                "text": {"field": "p"}
              }
            },
            {
              "data": {"values": [{"t": "p-value"}]},
              "mark": {"type": "text", "align": "left", "baseline": "middle", "fontSize": 12, "fontWeight": "bold", "color": "#111111", "dy": -24},
              "encoding": {
                "x": {"datum": 55.2, "type": "quantitative", "axis": null},
                "y": {"datum": "MMF|None", "type": "nominal", "axis": null},
                "text": {"field": "t"}
              }
            },
            {
              "data": {"name": "cg"},
              "transform": [{"filter": "datum.grp == 'MMF'"}],
              "mark": {"type": "rule", "strokeDash": [3, 2.5], "strokeWidth": 1.3, "color": "#D9A455"},
              "encoding": {
                "x": {"datum": 0.0000525, "type": "quantitative", "axis": null},
                "y": {"field": "top", "type": "nominal", "axis": null},
                "y2": {"field": "bot"}
              }
            },
            {
              "data": {"name": "cg"},
              "transform": [{"filter": "datum.grp == 'MMF'"}],
              "mark": {"type": "rule", "strokeDash": [3, 2.5], "strokeWidth": 1.3, "color": "#D9A455"},
              "encoding": {
                "x": {"datum": 0.0000525, "type": "quantitative", "axis": null},
                "x2": {"datum": 0.000079},
                "y": {"field": "top", "type": "nominal", "axis": null}
              }
            },
            {
              "data": {"name": "cg"},
              "transform": [{"filter": "datum.grp == 'MMF'"}],
              "mark": {"type": "rule", "strokeDash": [3, 2.5], "strokeWidth": 1.3, "color": "#D9A455"},
              "encoding": {
                "x": {"datum": 0.0000525, "type": "quantitative", "axis": null},
                "x2": {"datum": 0.000079},
                "y": {"field": "bot", "type": "nominal", "axis": null}
              }
            },
            {
              "data": {"name": "cg"},
              "transform": [{"filter": "datum.grp == 'CS'"}],
              "mark": {"type": "rule", "strokeDash": [3, 2.5], "strokeWidth": 1.3, "color": "#A22A2A"},
              "encoding": {
                "x": {"datum": 0.0000525, "type": "quantitative", "axis": null},
                "y": {"field": "top", "type": "nominal", "bandPosition": 0, "axis": null},
                "y2": {"field": "bot", "bandPosition": 0.8}
              }
            },
            {
              "data": {"name": "cg"},
              "transform": [{"filter": "datum.grp == 'CS'"}],
              "mark": {"type": "rule", "strokeDash": [3, 2.5], "strokeWidth": 1.3, "color": "#A22A2A"},
              "encoding": {
                "x": {"datum": 0.0000525, "type": "quantitative", "axis": null},
                "x2": {"datum": 0.000079},
                "y": {"field": "top", "type": "nominal", "bandPosition": 0, "axis": null}
              }
            },
            {
              "data": {"name": "cg"},
              "transform": [{"filter": "datum.grp == 'CS'"}],
              "mark": {"type": "rule", "strokeDash": [3, 2.5], "strokeWidth": 1.3, "color": "#A22A2A"},
              "encoding": {
                "x": {"datum": 0.0000525, "type": "quantitative", "axis": null},
                "x2": {"datum": 0.000079},
                "y": {"field": "bot", "type": "nominal", "bandPosition": 0.8, "axis": null}
              }
            },
            {
              "data": {"name": "cg"},
              "transform": [{"filter": "datum.grp == 'MMF'"}],
              "mark": {"type": "text", "angle": 270, "align": "center", "baseline": "alphabetic", "fontSize": 11.5, "fontWeight": "bold", "color": "#D9A455"},
              "encoding": {
                "x": {"datum": 0.0000412, "type": "quantitative", "axis": null},
                "y": {"field": "mid", "type": "nominal", "axis": null},
                "text": {"field": "name"}
              }
            },
            {
              "data": {"name": "cg"},
              "transform": [{"filter": "datum.grp == 'CS'"}],
              "mark": {"type": "text", "angle": 270, "align": "center", "baseline": "alphabetic", "fontSize": 11.5, "fontWeight": "bold", "color": "#A22A2A"},
              "encoding": {
                "x": {"datum": 0.0000412, "type": "quantitative", "axis": null},
                "y": {"field": "mid", "type": "nominal", "bandPosition": 0.7, "axis": null},
                "text": {"field": "name"}
              }
            }
          ]
        }
      ]
    }
  ]
}
